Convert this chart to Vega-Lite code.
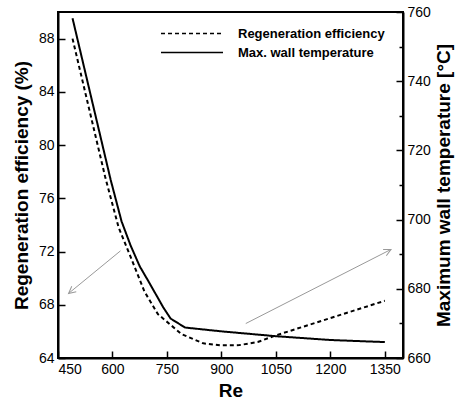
{
  "$schema": "https://vega.github.io/schema/vega-lite/v6.json",
  "autosize": "none",
  "width": 345,
  "height": 346,
  "padding": {"left": 58, "top": 12, "right": 60, "bottom": 41},
  "background": "white",
  "config": {
    "view": {"stroke": "black", "strokeWidth": 2},
    "font": "Liberation Sans",
    "axis": {
      "grid": false,
      "domainColor": "black",
      "domainWidth": 2,
      "tickColor": "black",
      "tickWidth": 1.5,
      "labelColor": "black",
      "titleColor": "black",
      "labelFont": "Liberation Sans",
      "labelFontSize": 14,
      "titleFont": "Liberation Sans",
      "titleFontSize": 19,
      "titleFontWeight": "bold"
    }
  },
  "datasets": {
    "eff": [
      {"Re": 490, "efficiency": 88.0},
      {"Re": 580, "efficiency": 77.6},
      {"Re": 617, "efficiency": 73.8},
      {"Re": 650, "efficiency": 71.6},
      {"Re": 688, "efficiency": 69.0},
      {"Re": 725, "efficiency": 67.3},
      {"Re": 790, "efficiency": 65.8},
      {"Re": 850, "efficiency": 65.1},
      {"Re": 900, "efficiency": 64.95},
      {"Re": 950, "efficiency": 64.97},
      {"Re": 1000, "efficiency": 65.2},
      {"Re": 1050, "efficiency": 65.7},
      {"Re": 1200, "efficiency": 67.0},
      {"Re": 1350, "efficiency": 68.3}
    ],
    "temp": [
      {"Re": 490, "temperature": 758.2},
      {"Re": 595, "temperature": 711.5},
      {"Re": 625, "temperature": 699.5},
      {"Re": 650, "temperature": 692.5},
      {"Re": 675, "temperature": 686.5},
      {"Re": 700, "temperature": 682.0},
      {"Re": 720, "temperature": 678.3},
      {"Re": 740, "temperature": 674.6},
      {"Re": 760, "temperature": 671.4},
      {"Re": 800, "temperature": 668.8},
      {"Re": 900, "temperature": 667.7},
      {"Re": 1050, "temperature": 666.3},
      {"Re": 1200, "temperature": 665.2},
      {"Re": 1350, "temperature": 664.6}
    ],
    "arrows": [
      {"name": "left", "Re": 622, "efficiency": 72.05, "Re2": 479, "efficiency2": 68.85},
      {"name": "right", "Re": 967, "efficiency": 66.59, "Re2": 1367, "efficiency2": 72.16}
    ]
  },
  "layer": [
    {
      "layer": [
        {
          "data": {"name": "eff"},
          "mark": {"type": "line", "color": "black", "strokeWidth": 2},
          "encoding": {
            "x": {
              "field": "Re",
              "type": "quantitative",
              "scale": {"domain": [450, 1400], "nice": false, "zero": false},
              "axis": {
                "values": [450, 525, 600, 675, 750, 825, 900, 975, 1050, 1125, 1200, 1275, 1350],
                "format": "d",
                "labelExpr": "datum.value % 150 === 0 ? datum.label : ''",
                "tickSize": {"condition": {"test": "datum.value % 150 === 0", "value": -7}, "value": -4},
                "labelPadding": 11,
                "labelFontSize": 14,
                "title": "Re",
                "titlePadding": 5
              }
            },
            "y": {
              "field": "efficiency",
              "type": "quantitative",
              "scale": {"domain": [64, 90], "nice": false, "zero": false},
              "axis": {
                "orient": "left",
                "values": [64, 66, 68, 70, 72, 74, 76, 78, 80, 82, 84, 86, 88],
                "labelExpr": "datum.value % 4 === 0 ? datum.label : ''",
                "tickSize": {"condition": {"test": "datum.value % 4 === 0", "value": -7}, "value": -4},
                "labelPadding": 11,
                "title": "Regeneration efficiency (%)",
                "titlePadding": 7
              }
            },
            "strokeDash": {
              "datum": "Regeneration efficiency",
              "scale": {"domain": ["Regeneration efficiency", "Max. wall temperature"], "range": [[4, 3], [1, 0]]},
              "legend": {
                "orient": "none",
                "legendX": 102,
                "legendY": 12,
                "title": null,
                "symbolType": "stroke",
                "symbolSize": 3844,
                "symbolStrokeWidth": 1.5,
                "symbolStrokeColor": "black",
                "labelFontSize": 13,
                "labelFontWeight": "bold",
                "labelFont": "Liberation Sans",
                "labelColor": "black",
                "clipHeight": 19,
                "labelOffset": 14,
                "padding": 0,
                "rowPadding": 0
              }
            }
          }
        },
        {
          "data": {"name": "arrows"},
          "mark": {"type": "rule", "color": "#999999", "strokeWidth": 1},
          "encoding": {
            "x": {"field": "Re", "type": "quantitative"},
            "x2": {"field": "Re2"},
            "y": {"field": "efficiency", "type": "quantitative"},
            "y2": {"field": "efficiency2"}
          }
        },
        {
          "data": {"name": "arrows"},
          "transform": [{"filter": "datum.name === 'left'"}],
          "mark": {"type": "point", "shape": "M-1,-0.5L0,0L-1,0.5", "size": 200, "angle": 140.7, "filled": false, "color": "#999999", "strokeWidth": 1, "opacity": 1},
          "encoding": {
            "x": {"field": "Re2", "type": "quantitative"},
            "y": {"field": "efficiency2", "type": "quantitative"}
          }
        },
        {
          "data": {"name": "arrows"},
          "transform": [{"filter": "datum.name === 'right'"}],
          "mark": {"type": "point", "shape": "M-1,-0.5L0,0L-1,0.5", "size": 200, "angle": 333, "filled": false, "color": "#999999", "strokeWidth": 1, "opacity": 1},
          "encoding": {
            "x": {"field": "Re2", "type": "quantitative"},
            "y": {"field": "efficiency2", "type": "quantitative"}
          }
        }
      ]
    },
    {
      "data": {"name": "temp"},
      "mark": {"type": "line", "color": "black", "strokeWidth": 2},
      "encoding": {
        "x": {"field": "Re", "type": "quantitative"},
        "y": {
          "field": "temperature",
          "type": "quantitative",
          "scale": {"domain": [660, 760], "nice": false, "zero": false},
          "axis": {
            "orient": "right",
            "values": [660, 670, 680, 690, 700, 710, 720, 730, 740, 750, 760],
            "labelExpr": "datum.value % 20 === 0 ? datum.label : ''",
            "tickSize": {"condition": {"test": "datum.value % 20 === 0", "value": -7}, "value": -4},
            "labelPadding": 11,
            "title": "Maximum wall temperature [°C]",
            "titleAngle": 270,
            "titlePadding": 23
          }
        },
        "strokeDash": {"datum": "Max. wall temperature"}
      }
    }
  ],
  "resolve": {"scale": {"y": "independent", "strokeDash": "shared"}}
}
